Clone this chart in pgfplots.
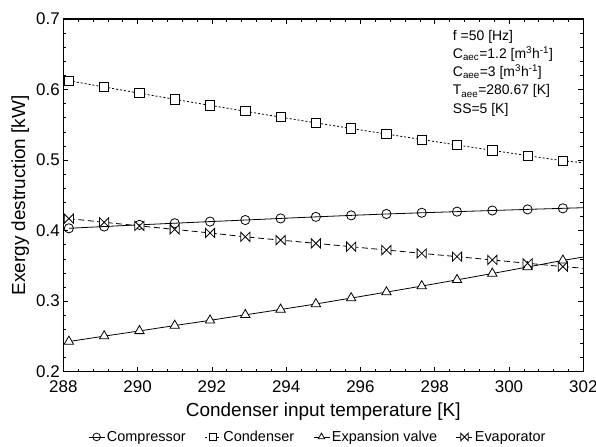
\documentclass[border=0pt]{standalone}
\usepackage{pgfplots}
\pgfplotsset{compat=1.18}
\usepackage{fontspec}
\setmainfont{Liberation Sans}
\pgfdeclareplotmark{bowtie}{%
  \pgfpathmoveto{\pgfqpoint{-\pgfplotmarksize}{\pgfplotmarksize}}%
  \pgfpathlineto{\pgfqpoint{\pgfplotmarksize}{-\pgfplotmarksize}}%
  \pgfpathlineto{\pgfqpoint{\pgfplotmarksize}{\pgfplotmarksize}}%
  \pgfpathlineto{\pgfqpoint{-\pgfplotmarksize}{-\pgfplotmarksize}}%
  \pgfpathclose
  \pgfusepathqfillstroke}
\begin{document}
\begin{tikzpicture}
\path[use as bounding box] (-63.3bp,-75.3bp) rectangle (532.7bp,371.7bp);
\begin{axis}[
  at={(0,0)}, anchor=south west,
  scale only axis, width=520bp, height=352.7bp,
  xmin=288, xmax=302, ymin=0.2, ymax=0.7,
  xtick={288,290,...,302}, ytick={0.2,0.3,...,0.7},
  minor x tick num=4, minor y tick num=4,
  tick align=inside, major tick length=5bp, minor tick length=3bp,
  tick style={black, line width=0.6bp},
  axis line style={line width=1.3bp},
  /pgf/number format/assume math mode=true,
  yticklabel style={/pgf/number format/fixed, /pgf/number format/precision=1},
  xticklabel style={/pgf/number format/1000 sep={}, yshift=-5bp},
  ticklabel style={font=\fontsize{17}{19}\selectfont},
  xlabel={Condenser input temperature [K]},
  ylabel={Exergy destruction [kW]},
  every axis x label/.style={at={(axis description cs:0.5,-0.112)}, anchor=center, font=\fontsize{19}{21}\selectfont},
  every axis y label/.style={at={(axis description cs:-0.083,0.5)}, rotate=90, anchor=center, font=\fontsize{19}{21}\selectfont},
  legend columns=4,
  legend style={draw=none, fill=none, at={(axis description cs:0.0475,-0.185)}, anchor=west,
    font=\fontsize{14.5}{16}\selectfont, /tikz/every even column/.append style={column sep=17bp},
    inner sep=0pt},
  legend image code/.code={\draw[mark repeat=2,mark phase=2,#1,mark size=3.8bp] plot coordinates {(0bp,0bp) (8bp,0bp) (16bp,0bp)};},
  every axis plot/.append style={line width=0.8bp},
]
\addplot[black, solid, mark=o, mark size=4.6bp, mark options={solid, fill=white}] coordinates {
(288.15,0.4033) (289.10,0.4058) (290.05,0.4082) (291.00,0.4105) (291.95,0.4128)
(292.90,0.4150) (293.85,0.4173) (294.80,0.4195) (295.75,0.4216) (296.70,0.4236)
(297.65,0.4253) (298.60,0.4269) (299.55,0.4285) (300.50,0.4301) (301.45,0.4316)};
\addlegendentry{Compressor\hspace{12bp}}
\addplot[black, dash pattern=on 2bp off 2bp, mark=square*, mark size=4.6bp, mark options={solid, fill=white}] coordinates {
(288.15,0.6125) (289.10,0.6036) (290.05,0.5948) (291.00,0.5861) (291.95,0.5776)
(292.90,0.5692) (293.85,0.5609) (294.80,0.5528) (295.75,0.5448) (296.70,0.5369)
(297.65,0.5291) (298.60,0.5214) (299.55,0.5138) (300.50,0.5063) (301.45,0.4990)};
\addlegendentry{Condenser}
\addplot[black, solid, mark=triangle*, mark size=5.4bp, mark options={solid, fill=white}] coordinates {
(288.15,0.2428) (289.10,0.2504) (290.05,0.2578) (291.00,0.2654) (291.95,0.2728)
(292.90,0.2806) (293.85,0.2882) (294.80,0.2960) (295.75,0.3044) (296.70,0.3128)
(297.65,0.3214) (298.60,0.3302) (299.55,0.3392) (300.50,0.3484) (301.45,0.3578)};
\addlegendentry{Expansion valve}
\addplot[black, dash pattern=on 6bp off 3.5bp, mark=bowtie, mark size=4.6bp, mark options={solid, fill=white}] coordinates {
(288.15,0.4170) (289.10,0.4118) (290.05,0.4067) (291.00,0.4017) (291.95,0.3967)
(292.90,0.3912) (293.85,0.3865) (294.80,0.3820) (295.75,0.3772) (296.70,0.3725)
(297.65,0.3678) (298.60,0.3631) (299.55,0.3584) (300.50,0.3537) (301.45,0.3490)};
\addlegendentry{Evaporator}
% line continuations to the right border
\addplot[black, solid, no marks, forget plot] coordinates {(301.45,0.4316) (302,0.4325)};
\addplot[black, dash pattern=on 2bp off 2bp, no marks, forget plot] coordinates {(301.45,0.4990) (302,0.4962)};
\addplot[black, solid, no marks, forget plot] coordinates {(301.45,0.3578) (302,0.3625)};
\addplot[black, dash pattern=on 6bp off 3.5bp, no marks, forget plot] coordinates {(301.45,0.3490) (302,0.3466)};
\node[anchor=north west, align=left, inner sep=0pt, font=\fontsize{14}{18.3}\selectfont]
  at (axis description cs:0.749,0.969) {f =50 [Hz]\\
  C\textsubscript{aec}=1.2 [m\textsuperscript{3}h\textsuperscript{-1}]\\
  C\textsubscript{aee}=3 [m\textsuperscript{3}h\textsuperscript{-1}]\\
  T\textsubscript{aee}=280.67 [K]\\
  SS=5 [K]};
\end{axis}
\end{tikzpicture}
\end{document}
